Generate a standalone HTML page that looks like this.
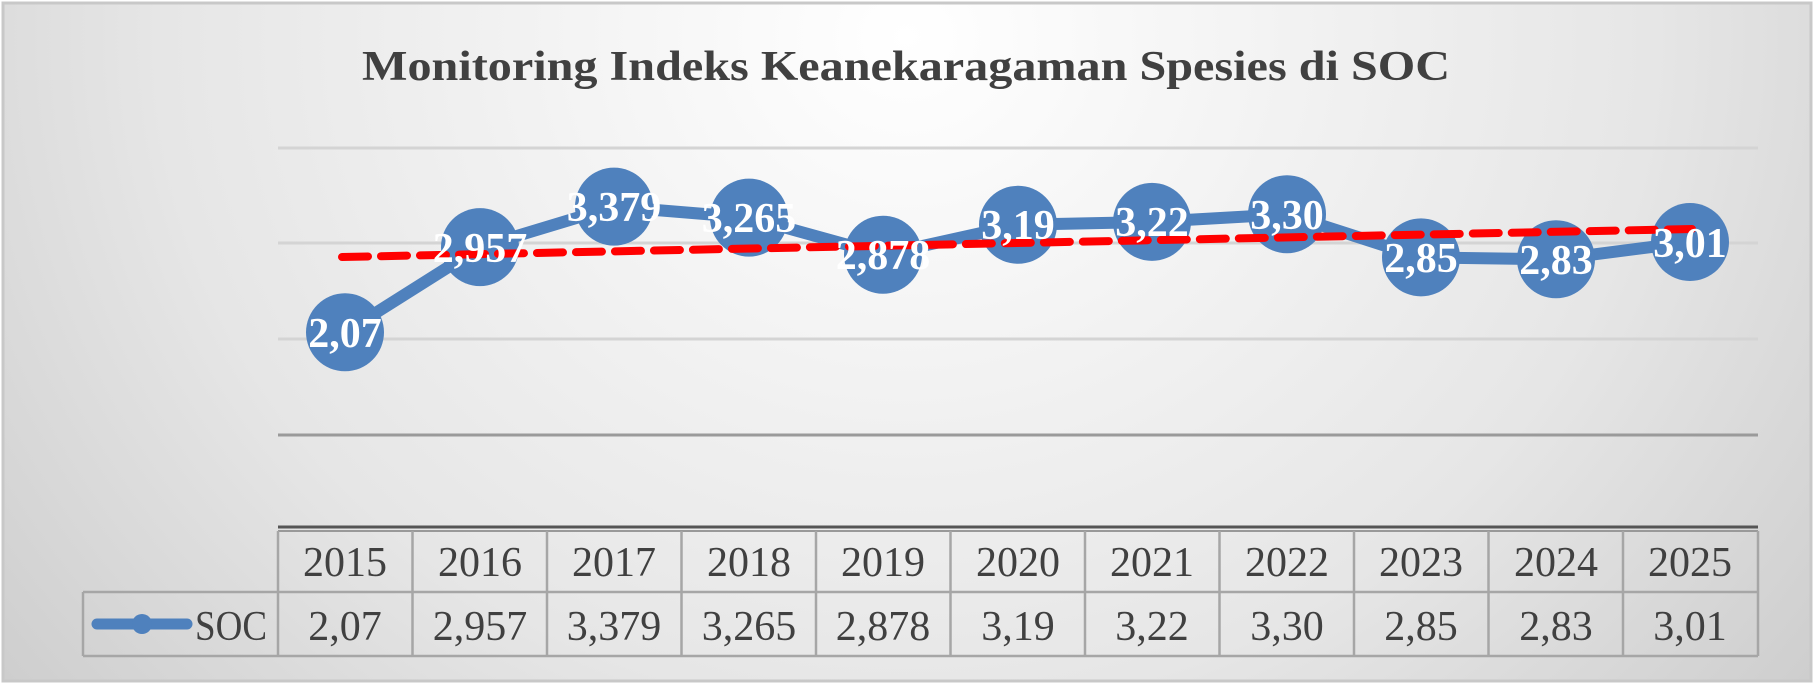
<!DOCTYPE html>
<html><head><meta charset="utf-8"><style>
html,body{margin:0;padding:0;background:#fff;}
svg{display:block;}
</style></head><body>
<svg width="1815" height="687" viewBox="0 0 1815 687" xmlns="http://www.w3.org/2000/svg">
<defs>
<radialGradient id="bg" cx="0.5" cy="0.05" r="0.75" gradientTransform="translate(0.5 0.05) scale(1 2.4) translate(-0.5 -0.05)">
<stop offset="0" stop-color="#ffffff"/>
<stop offset="0.55" stop-color="#e6e6e6"/>
<stop offset="1" stop-color="#c2c2c2"/>
</radialGradient>
</defs>
<rect x="3" y="3" width="1808" height="678" fill="url(#bg)" stroke="#c8c8c8" stroke-width="3"/>
<text x="906" y="80" text-anchor="middle" font-family="Liberation Serif, serif" font-weight="bold" font-size="42" fill="#404040" textLength="1088" lengthAdjust="spacingAndGlyphs">Monitoring Indeks Keanekaragaman Spesies di  SOC</text>
<g stroke="#d4d4d4" stroke-width="3">
<line x1="278" y1="148" x2="1758" y2="148"/>
<line x1="278" y1="243" x2="1758" y2="243"/>
<line x1="278" y1="339" x2="1758" y2="339"/>
</g>
<line x1="278" y1="435" x2="1758" y2="435" stroke="#9a9a9a" stroke-width="3"/>
<line x1="278" y1="527" x2="1758" y2="527" stroke="#555" stroke-width="3"/>
<line x1="278" y1="531" x2="1758" y2="531" stroke="#999" stroke-width="2"/>
<g stroke="#a6a6a6" stroke-width="2.5" fill="none">
<line x1="83" y1="592" x2="1758" y2="592"/>
<line x1="83" y1="656" x2="1758" y2="656"/>
<line x1="83" y1="592" x2="83" y2="656"/>
<line x1="278" y1="531" x2="278" y2="656"/>
<line x1="412.5" y1="531" x2="412.5" y2="656"/>
<line x1="547" y1="531" x2="547" y2="656"/>
<line x1="681.5" y1="531" x2="681.5" y2="656"/>
<line x1="816" y1="531" x2="816" y2="656"/>
<line x1="950.5" y1="531" x2="950.5" y2="656"/>
<line x1="1085" y1="531" x2="1085" y2="656"/>
<line x1="1219.5" y1="531" x2="1219.5" y2="656"/>
<line x1="1354" y1="531" x2="1354" y2="656"/>
<line x1="1488.5" y1="531" x2="1488.5" y2="656"/>
<line x1="1623" y1="531" x2="1623" y2="656"/>
<line x1="1758" y1="531" x2="1758" y2="656"/>
</g>
<g font-family="Liberation Serif, serif" font-size="42" fill="#404040" text-anchor="middle">
<text x="345" y="576">2015</text><text x="480" y="576">2016</text><text x="614" y="576">2017</text><text x="749" y="576">2018</text><text x="883" y="576">2019</text><text x="1018" y="576">2020</text><text x="1152" y="576">2021</text><text x="1287" y="576">2022</text><text x="1421" y="576">2023</text><text x="1556" y="576">2024</text><text x="1690" y="576">2025</text>
<text x="345" y="640">2,07</text><text x="480" y="640">2,957</text><text x="614" y="640">3,379</text><text x="749" y="640">3,265</text><text x="883" y="640">2,878</text><text x="1018" y="640">3,19</text><text x="1152" y="640">3,22</text><text x="1287" y="640">3,30</text><text x="1421" y="640">2,85</text><text x="1556" y="640">2,83</text><text x="1690" y="640">3,01</text>
<text x="231" y="640" textLength="72" lengthAdjust="spacingAndGlyphs">SOC</text>
</g>
<line x1="97" y1="624" x2="187" y2="624" stroke="#4f81bd" stroke-width="11" stroke-linecap="round"/>
<circle cx="142" cy="624" r="10" fill="#4f81bd"/>
<polyline fill="none" stroke="#4f81bd" stroke-width="12" stroke-linejoin="round"
points="345,332.3 480,247.1 614,206.6 749,217.6 883,254.7 1018,224.8 1152,221.9 1287,214.2 1421,257.4 1556,259.3 1690,242.0"/>
<g fill="#4f81bd">
<circle cx="345" cy="332.3" r="39"/><circle cx="480" cy="247.1" r="39"/><circle cx="614" cy="206.6" r="39"/><circle cx="749" cy="217.6" r="39"/><circle cx="883" cy="254.7" r="39"/><circle cx="1018" cy="224.8" r="39"/><circle cx="1152" cy="221.9" r="39"/><circle cx="1287" cy="214.2" r="39"/><circle cx="1421" cy="257.4" r="39"/><circle cx="1556" cy="259.3" r="39"/><circle cx="1690" cy="242.0" r="39"/>
</g>
<line x1="342" y1="257" x2="1692" y2="229" stroke="#ff0000" stroke-width="8" stroke-dasharray="26 13" stroke-linecap="round"/>
<g font-family="Liberation Serif, serif" font-weight="bold" font-size="42" fill="#ffffff" text-anchor="middle">
<text x="345" y="347">2,07</text><text x="480" y="262">2,957</text><text x="614" y="221">3,379</text><text x="749" y="232">3,265</text><text x="883" y="269">2,878</text><text x="1018" y="239">3,19</text><text x="1152" y="236">3,22</text><text x="1287" y="229">3,30</text><text x="1421" y="272">2,85</text><text x="1556" y="274">2,83</text><text x="1690" y="257">3,01</text>
</g>
</svg>
</body></html>
